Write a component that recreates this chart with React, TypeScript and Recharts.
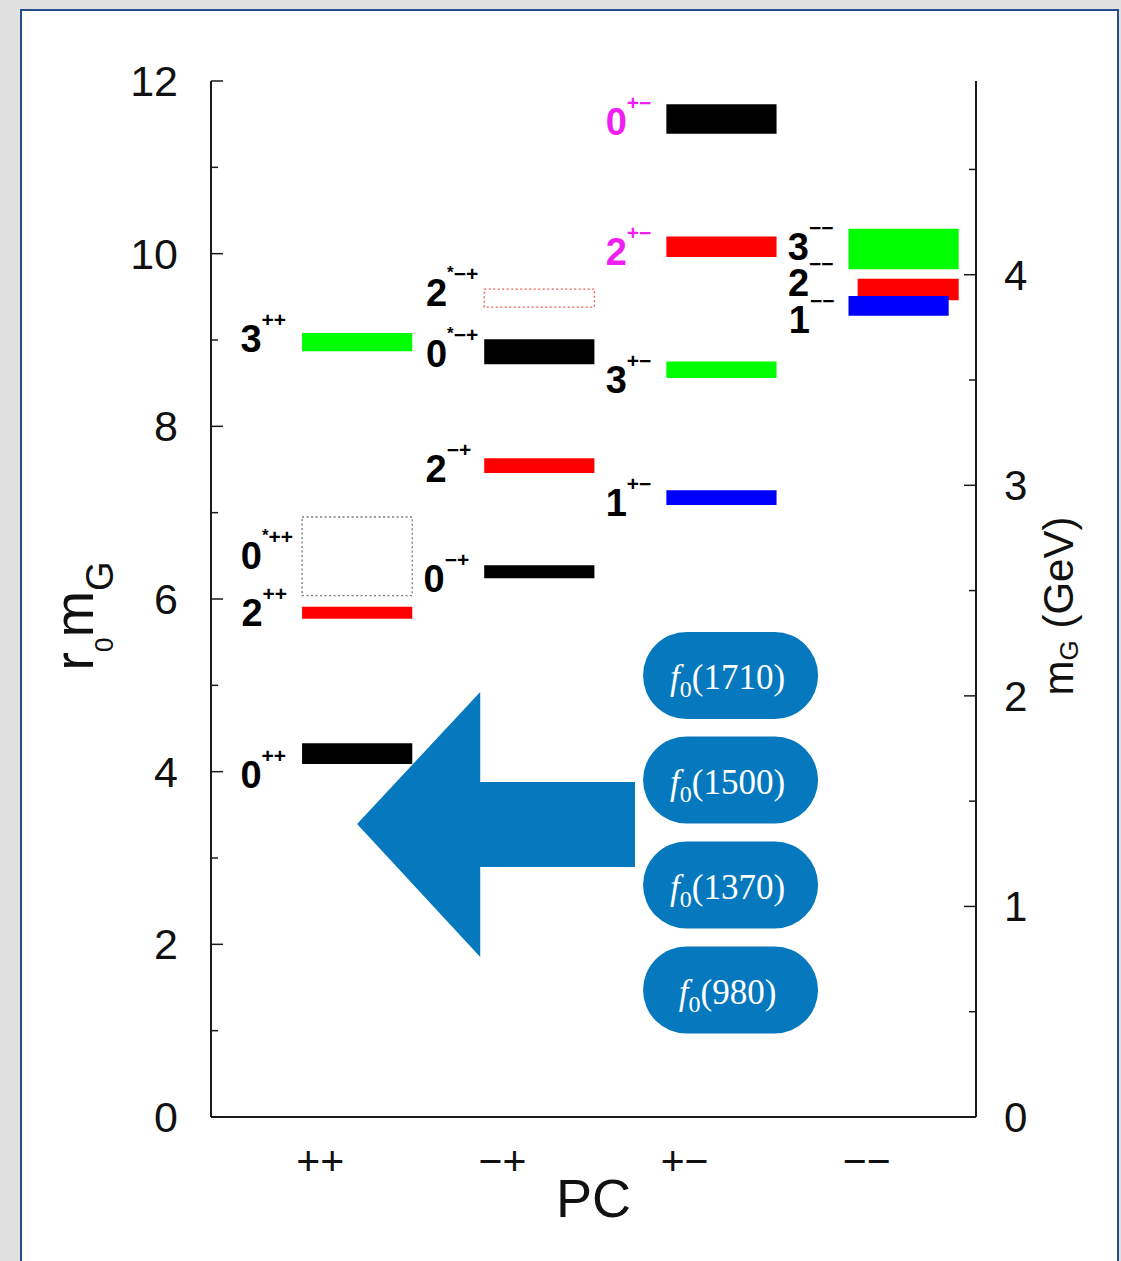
import React from 'react';
import { ComposedChart, XAxis, YAxis, ReferenceArea } from 'recharts';

// PC channels along the x axis
const pcLabels = ['++', '−+', '+−', '−−'];

// glueball states: spin J, PC channel, excited (*) flag, mass band in units of 1/r0
const stateJ = [0, 2, 0, 3, 0, 2, 0, 2, 1, 3, 2, 0, 3, 2, 1];
const stateCol = [0, 0, 0, 0, 1, 1, 1, 1, 2, 2, 2, 2, 3, 3, 3];
const stateStar = [false, false, true, false, false, false, true, true, false, false, false, false, false, false, false];
const stateOpen = [false, false, true, false, false, false, false, true, false, false, false, false, false, false, false];
const stateExotic = [false, false, false, false, false, false, false, false, false, false, true, true, false, false, false];
const massLo = [4.09, 5.77, 6.04, 8.87, 6.24, 7.46, 8.72, 9.38, 7.09, 8.56, 9.96, 11.39, 9.82, 9.46, 9.28];
const massHi = [4.33, 5.91, 6.95, 9.08, 6.39, 7.63, 9.01, 9.59, 7.26, 8.75, 10.2, 11.73, 10.29, 9.71, 9.51];

const r0Ticks = [0, 1, 2, 3, 4, 5, 6, 7, 8, 9, 10, 11, 12];
const gevTicks = [0, 0.5, 1, 1.5, 2, 2.5, 3, 3.5, 4, 4.5];
const r0Inv = 0.41; // GeV

const resonances = ['1710', '1500', '1370', '980'];

// layout
const W = 1121;
const H = 1261;
const SANS = "'Liberation Sans', Arial, Helvetica, sans-serif";
const SERIF = "'Liberation Serif', 'Times New Roman', serif";
const AXIS = '#1a1a1a';
const BLUE = '#0679be';
const jColor = ['#000000', '#0000ff', '#ff0000', '#00ff00'];
const openColor = ['#777777', '#0000ff', '#f25a5a', '#00ff00'];

const barX0 = [0.5, 0.5, 0.5, 0.5, 0.5, 0.5, 0.5, 0.5, 0.5, 0.5, 0.5, 0.5, 0.5, 0.55, 0.5];
const barX1 = [1.105, 1.105, 1.105, 1.105, 1.105, 1.105, 1.105, 1.105, 1.105, 1.105, 1.105, 1.105, 1.105, 1.105, 1.05];
const labelDy = [21, 0, 0, -3, 7, 3, 2, -5, 5, 10, 5, 3, -2, -6, 14];
const labelGap = [16, 15, 9, 16, 15, 13, 6, 6, 15, 15, 15, 15, 15, 24, 14];

const pillX = [2.372, 3.333];
const pillMid = [5.114, 3.904, 2.687, 1.471];
const pillHalf = 0.504;
const arrowBox = { x1: 0.802, x2: 2.328, y1: 1.853, y2: 4.923 };

const rows = stateJ.map((j, i) => ({ j, col: stateCol[i] + 0.8, lo: massLo[i], hi: massHi[i] }));

const LeftTick = (props: any) => {
  const { x, y, payload } = props;
  const v = payload.value;
  const major = v % 2 === 0;
  return (
    <g>
      <line x1={x} y1={y} x2={x + (major ? 12 : 7)} y2={y} stroke={AXIS} strokeWidth={1.5} />
      {major && (
        <text x={x - 33} y={y + 15} textAnchor="end" fontFamily={SANS} fontSize={43} fill="#111">
          {v}
        </text>
      )}
    </g>
  );
};

const RightTick = (props: any) => {
  const { x, y, payload } = props;
  const v = payload.value;
  const major = Number.isInteger(v);
  return (
    <g>
      <line x1={x} y1={y} x2={x - (major ? 12 : 7)} y2={y} stroke={AXIS} strokeWidth={1.5} />
      {major && (
        <text x={x + 28} y={y + 15} textAnchor="start" fontFamily={SANS} fontSize={42} fill="#111">
          {v}
        </text>
      )}
    </g>
  );
};

const PcTick = (props: any) => {
  const { x, y, payload } = props;
  const idx = Math.round(payload.value - 0.6);
  return (
    <text x={x} y={y + 58} textAnchor="middle" fontFamily={SANS} fontSize={41} fill="#111">
      {pcLabels[idx]}
    </text>
  );
};

const StateLabel = ({ viewBox, i }: any) => {
  const { x, y, height } = viewBox;
  const cy = y + height / 2 + labelDy[i];
  const fill = stateExotic[i] ? '#f01ef0' : '#000';
  return (
    <text x={x - labelGap[i]} y={cy + 13} textAnchor="end" fontFamily={SANS} fontWeight="bold" fontSize={38} fill={fill}>
      {stateJ[i]}
      {stateStar[i] && (
        <tspan fontSize={17} dy={-28}>
          *
        </tspan>
      )}
      <tspan fontSize={21} dy={stateStar[i] ? 3 : -25}>
        {pcLabels[stateCol[i]]}
      </tspan>
    </text>
  );
};

const pillShape = (name: string) => (p: any) => {
  const { x, y, width, height } = p;
  const cx = x + width / 2;
  const cy = y + height / 2;
  return (
    <g>
      <rect x={x} y={y} width={width} height={height} rx={height / 2} ry={height / 2} fill={BLUE} />
      <text x={cx - 3} y={cy + 14} textAnchor="middle" fill="#fff" fontFamily={SERIF} fontSize={35}>
        <tspan fontStyle="italic">f</tspan>
        <tspan fontSize={24} dy={8}>
          0
        </tspan>
        <tspan dy={-8}>({name})</tspan>
      </text>
    </g>
  );
};

const arrowShape = (p: any) => {
  const { x, y, width, height } = p;
  const hx = x + width * 0.443;
  const sTop = y + height * 0.34;
  const sBot = y + height * 0.66;
  const pts = [
    [x, y + height * 0.498],
    [hx, y],
    [hx, sTop],
    [x + width, sTop],
    [x + width, sBot],
    [hx, sBot],
    [hx, y + height],
  ]
    .map((q) => q.join(','))
    .join(' ');
  return <polygon points={pts} fill={BLUE} />;
};

const LeftTitle = ({ viewBox }: any) => {
  const cx = viewBox.x - 38;
  const cy = viewBox.y + viewBox.height / 2 + 17;
  return (
    <text x={cx} y={cy} textAnchor="middle" transform={`rotate(-90 ${cx} ${cy})`} fontFamily={SANS} fontSize={56} fill="#111">
      r
      <tspan fontSize={26} dy={20}>
        0
      </tspan>
      <tspan dy={-20}>m</tspan>
      <tspan fontSize={38} dy={20}>
        G
      </tspan>
    </text>
  );
};

const RightTitle = ({ viewBox }: any) => {
  const cx = viewBox.x + 97;
  const cy = viewBox.y + viewBox.height / 2 + 7;
  return (
    <text x={cx} y={cy} textAnchor="middle" transform={`rotate(-90 ${cx} ${cy})`} fontFamily={SANS} fontSize={42} fill="#111">
      m
      <tspan fontSize={26} dy={5}>
        G
      </tspan>
      <tspan dy={-5}> (GeV)</tspan>
    </text>
  );
};

const PcTitle = ({ viewBox }: any) => (
  <text x={viewBox.x + viewBox.width / 2} y={viewBox.y + 100} textAnchor="middle" fontFamily={SANS} fontSize={54} fill="#111">
    PC
  </text>
);

export default function App() {
  return (
    <div style={{ position: 'absolute', left: 0, top: 0, width: W, height: H, background: '#e1e1e1', overflow: 'hidden' }}>
      <div
        style={{
          position: 'absolute',
          left: 20,
          top: 9,
          width: 1099,
          height: 1300,
          boxSizing: 'border-box',
          border: '2px solid #224f8c',
          background: '#fff',
        }}
      />
      <div style={{ position: 'absolute', left: 0, top: 0 }}>
        <ComposedChart width={W} height={H} data={rows} margin={{ top: 81, right: 65, bottom: 84, left: 131 }}>
          <XAxis
            xAxisId="pc"
            dataKey="col"
            type="number"
            domain={[0, 4.2]}
            allowDataOverflow
            ticks={[0.6, 1.6, 2.6, 3.6]}
            interval={0}
            tick={PcTick}
            tickLine={false}
            tickSize={0}
            tickMargin={0}
            height={60}
            axisLine={{ stroke: AXIS, strokeWidth: 2 }}
            label={PcTitle}
          />
          <XAxis
            xAxisId="top"
            dataKey="col"
            orientation="top"
            type="number"
            domain={[0, 4.2]}
            allowDataOverflow
            tick={false}
            tickLine={false}
            height={0}
            axisLine={{ stroke: AXIS, strokeWidth: 2 }}
          />
          <YAxis
            yAxisId="r0"
            dataKey="hi"
            type="number"
            domain={[0, 12]}
            allowDataOverflow
            ticks={r0Ticks}
            interval={0}
            tick={LeftTick}
            tickLine={false}
            tickSize={0}
            tickMargin={0}
            width={80}
            axisLine={{ stroke: AXIS, strokeWidth: 2 }}
            label={LeftTitle}
          />
          <YAxis
            yAxisId="gev"
            orientation="right"
            type="number"
            domain={[0, 12 * r0Inv]}
            allowDataOverflow
            ticks={gevTicks}
            interval={0}
            tick={RightTick}
            tickLine={false}
            tickSize={0}
            tickMargin={0}
            width={80}
            axisLine={{ stroke: AXIS, strokeWidth: 2 }}
            label={RightTitle}
          />

          {stateJ.map((j, i) => (
            <ReferenceArea
              key={`s${i}`}
              xAxisId="pc"
              yAxisId="r0"
              x1={stateCol[i] + barX0[i]}
              x2={stateCol[i] + barX1[i]}
              y1={massLo[i]}
              y2={massHi[i]}
              fill={stateOpen[i] ? 'none' : jColor[j]}
              fillOpacity={1}
              stroke={stateOpen[i] ? openColor[j] : 'none'}
              strokeWidth={stateOpen[i] ? 1.3 : 0}
              strokeDasharray={stateOpen[i] ? '2 2.5' : undefined}
              ifOverflow="visible"
              label={(p: any) => <StateLabel viewBox={p.viewBox} i={i} />}
            />
          ))}

          <ReferenceArea
            xAxisId="pc"
            yAxisId="r0"
            x1={arrowBox.x1}
            x2={arrowBox.x2}
            y1={arrowBox.y1}
            y2={arrowBox.y2}
            ifOverflow="visible"
            shape={arrowShape}
          />

          {resonances.map((name, k) => (
            <ReferenceArea
              key={`f${k}`}
              xAxisId="pc"
              yAxisId="r0"
              x1={pillX[0]}
              x2={pillX[1]}
              y1={pillMid[k] - pillHalf}
              y2={pillMid[k] + pillHalf}
              ifOverflow="visible"
              shape={pillShape(name)}
            />
          ))}
        </ComposedChart>
      </div>
    </div>
  );
}
